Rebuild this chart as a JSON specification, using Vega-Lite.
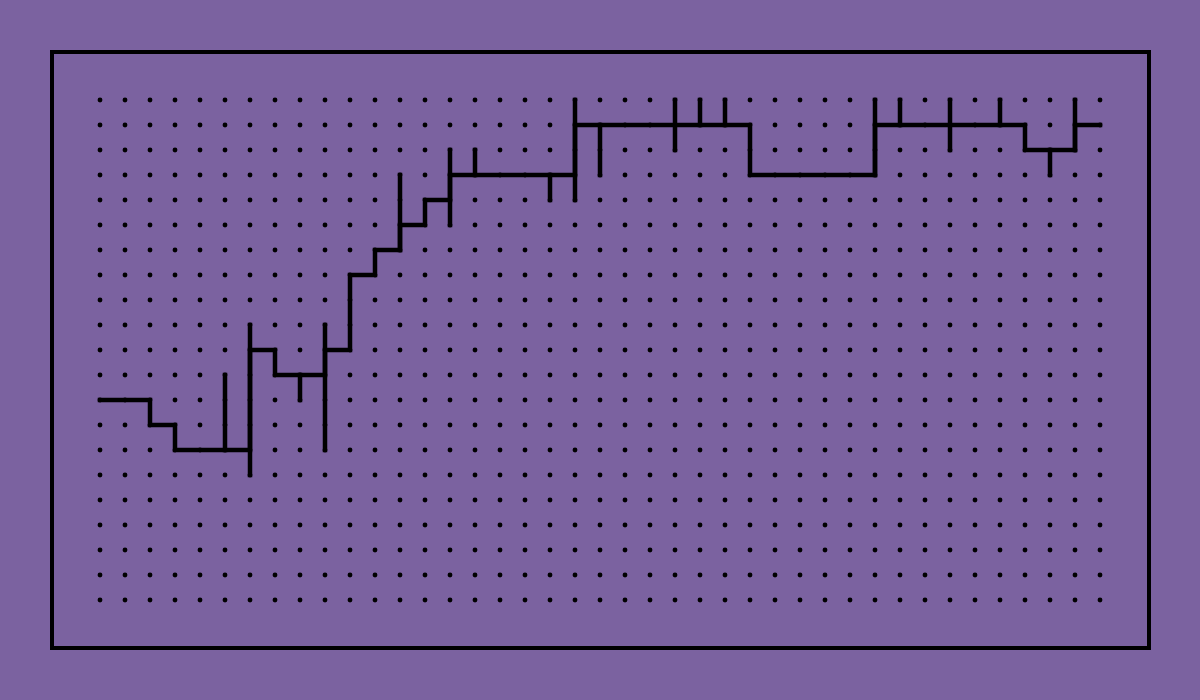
{
  "$schema": "https://vega.github.io/schema/vega-lite/v6.json",
  "width": 1097,
  "height": 596,
  "padding": {"left": 52, "top": 52, "right": 51, "bottom": 52},
  "background": "#7b62a0",
  "config": {"view": {"stroke": "#000000", "strokeWidth": 4}},
  "datasets": {
    "grid": [{"cols": [0,1,2,3,4,5,6,7,8,9,10,11,12,13,14,15,16,17,18,19,20,21,22,23,24,25,26,27,28,29,30,31,32,33,34,35,36,37,38,39,40], "rows": [0,1,2,3,4,5,6,7,8,9,10,11,12,13,14,15,16,17,18,19,20]}],
    "series": [
      {"c": 0, "lvl": 8},
      {"c": 1, "lvl": 8},
      {"c": 2, "lvl": 7},
      {"c": 3, "lvl": 6},
      {"c": 4, "lvl": 6},
      {"c": 5, "lvl": 6, "lo": 6, "hi": 9},
      {"c": 6, "lvl": 10, "lo": 5, "hi": 11},
      {"c": 7, "lvl": 9},
      {"c": 8, "lvl": 9, "lo": 8, "hi": 9},
      {"c": 9, "lvl": 10, "lo": 6, "hi": 11},
      {"c": 10, "lvl": 13},
      {"c": 11, "lvl": 14},
      {"c": 12, "lvl": 15, "lo": 14, "hi": 17},
      {"c": 13, "lvl": 16},
      {"c": 14, "lvl": 17, "lo": 15, "hi": 18},
      {"c": 15, "lvl": 17, "lo": 17, "hi": 18},
      {"c": 16, "lvl": 17},
      {"c": 17, "lvl": 17},
      {"c": 18, "lvl": 17, "lo": 16, "hi": 17},
      {"c": 19, "lvl": 19, "lo": 16, "hi": 20},
      {"c": 20, "lvl": 19, "lo": 17, "hi": 19},
      {"c": 21, "lvl": 19},
      {"c": 22, "lvl": 19},
      {"c": 23, "lvl": 19, "lo": 18, "hi": 20},
      {"c": 24, "lvl": 19, "lo": 19, "hi": 20},
      {"c": 25, "lvl": 19, "lo": 19, "hi": 20},
      {"c": 26, "lvl": 17},
      {"c": 27, "lvl": 17},
      {"c": 28, "lvl": 17},
      {"c": 29, "lvl": 17},
      {"c": 30, "lvl": 17},
      {"c": 31, "lvl": 19, "lo": 17, "hi": 20},
      {"c": 32, "lvl": 19, "lo": 19, "hi": 20},
      {"c": 33, "lvl": 19},
      {"c": 34, "lvl": 19, "lo": 18, "hi": 20},
      {"c": 35, "lvl": 19},
      {"c": 36, "lvl": 19, "lo": 19, "hi": 20},
      {"c": 37, "lvl": 18},
      {"c": 38, "lvl": 18, "lo": 17, "hi": 18},
      {"c": 39, "lvl": 19, "lo": 18, "hi": 20},
      {"c": 40, "lvl": 19}
    ]
  },
  "layer": [
    {
      "data": {"name": "grid"},
      "transform": [{"flatten": ["cols"]}, {"flatten": ["rows"]}],
      "mark": {"type": "point", "filled": true, "shape": "circle", "size": 24, "color": "#000000", "opacity": 1},
      "encoding": {
        "x": {"field": "cols", "type": "quantitative", "scale": {"domain": [-1.92, 41.96], "nice": false, "zero": false}, "axis": null},
        "y": {"field": "rows", "type": "quantitative", "scale": {"domain": [-1.92, 21.92], "nice": false, "zero": false}, "axis": null}
      }
    },
    {
      "data": {"name": "series"},
      "mark": {"type": "line", "interpolate": "step-after", "color": "#000000", "strokeWidth": 4.5, "strokeCap": "square", "strokeJoin": "miter"},
      "encoding": {
        "x": {"field": "c", "type": "quantitative"},
        "y": {"field": "lvl", "type": "quantitative"}
      }
    },
    {
      "data": {"name": "series"},
      "transform": [{"filter": "isValid(datum.lo)"}],
      "mark": {"type": "rule", "color": "#000000", "strokeWidth": 4.5, "strokeCap": "square"},
      "encoding": {
        "x": {"field": "c", "type": "quantitative"},
        "y": {"field": "lo", "type": "quantitative"},
        "y2": {"field": "hi"}
      }
    }
  ]
}
